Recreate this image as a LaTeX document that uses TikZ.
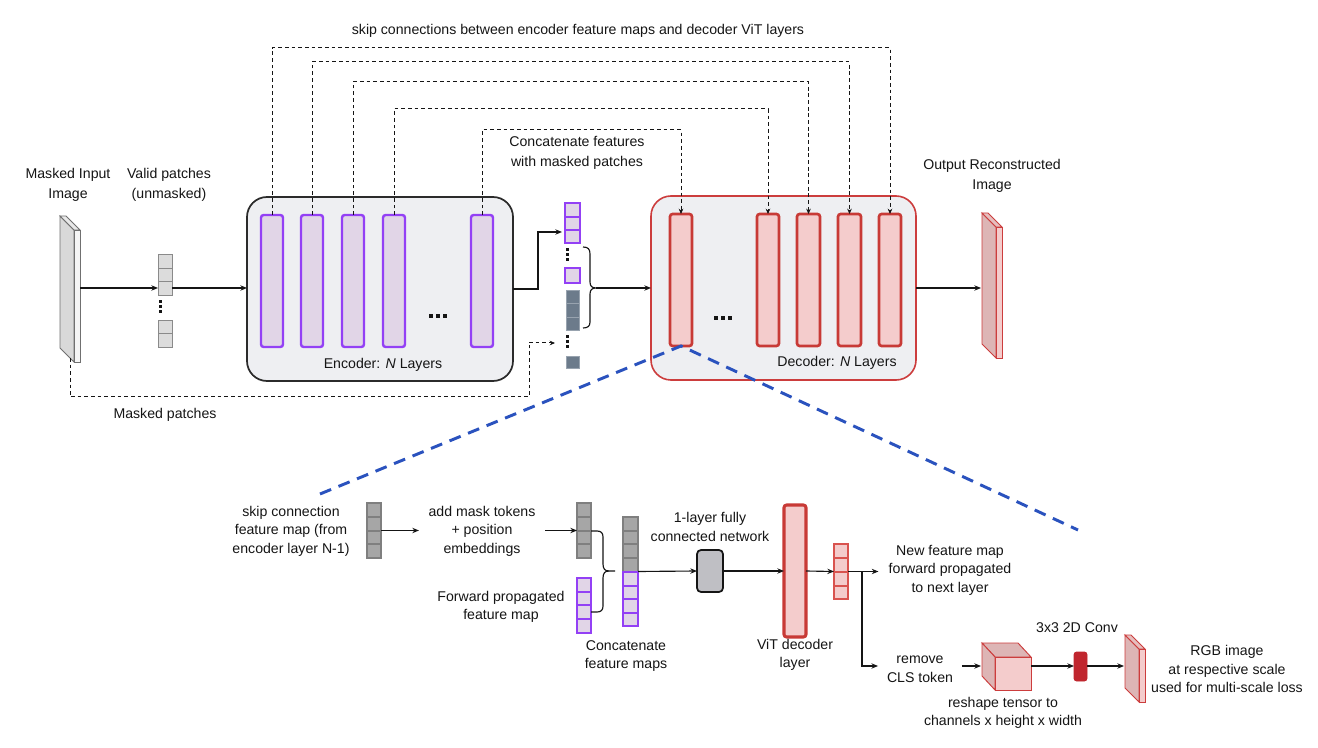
\documentclass[tikz,border=0pt]{standalone}
\usepackage{fontspec}
\setmainfont{Liberation Sans}
\usetikzlibrary{arrows.meta,fit,calc}
\definecolor{txt}{HTML}{151515}
\definecolor{purp}{HTML}{9340F5}
\definecolor{purpfill}{HTML}{E1D5E7}
\definecolor{boxfill}{HTML}{EEEFF2}
\definecolor{encstroke}{HTML}{2B2B2B}
\definecolor{decred}{HTML}{CC3D3D}
\definecolor{decred2}{HTML}{C83A36}
\definecolor{pinkfill}{HTML}{F4CCCC}
\definecolor{pinkdark}{HTML}{DDB5B5}
\definecolor{lightred}{HTML}{D9534F}
\definecolor{cellgray}{HTML}{DCDCDC}
\definecolor{cellgraystroke}{HTML}{8A8A8A}
\definecolor{midgray}{HTML}{A6A6A6}
\definecolor{midgraystroke}{HTML}{7F7F7F}
\definecolor{slate}{HTML}{6C7B8B}
\definecolor{slatestroke}{HTML}{98A3AF}
\definecolor{blueD}{HTML}{2A52BE}
\definecolor{convred}{HTML}{C0262E}
\definecolor{fcgray}{HTML}{BFBFC4}
\definecolor{slabgray}{HTML}{D9D9D9}
\definecolor{slabstroke}{HTML}{707070}
\begin{document}
\begin{tikzpicture}[x=0.75pt,y=-0.75pt,
  every node/.style={text=txt},
  lbl/.style={align=center, inner sep=1pt, font=\fontsize{10.6}{13.9}\selectfont},
  lblt/.style={align=center, inner sep=1pt, font=\fontsize{10.6}{15.5}\selectfont},
  fitbox/.style={inner sep=0pt, outer sep=0pt},
  encbox/.style={fitbox, draw=encstroke, fill=boxfill, line width=1.3pt, rounded corners=15pt},
  decbox/.style={fitbox, draw=decred, fill=boxfill, line width=1.2pt, rounded corners=15pt},
  enclayer/.style={fitbox, draw=purp, fill=purpfill, line width=1.8pt, rounded corners=2pt},
  declayer/.style={fitbox, draw=decred2, fill=pinkfill, line width=2pt, rounded corners=2pt},
  cellg/.style={fitbox, draw=cellgraystroke, fill=cellgray, line width=0.6pt},
  cellm/.style={fitbox, draw=midgraystroke, fill=midgray, line width=0.8pt},
  cellp/.style={fitbox, draw=purp, fill=purpfill, line width=1.3pt},
  cellsl/.style={fitbox, draw=slatestroke, fill=slate, line width=0.5pt},
  cellr/.style={fitbox, draw=lightred, fill=pinkfill, line width=1pt},
  ghost/.style={fitbox},
  arw/.style={-{Stealth[length=5pt,width=4pt]}, line width=0.85pt, draw=txt},
  plainline/.style={line width=0.85pt, draw=txt},
  skipl/.style={-{Stealth[length=4pt,width=3.5pt]}, line width=0.75pt, dash pattern=on 2.8pt off 2.2pt, draw=txt},
  dashl/.style={line width=0.75pt, dash pattern=on 2.8pt off 2.2pt, draw=txt},
  bluedash/.style={draw=blueD, line width=2.2pt, dash pattern=on 9pt off 6pt},
  dotsq/.style={fill=txt}
]
\useasboundingbox[fill=white] (0,0) rectangle (1318,748);

% ---------- top title
\node[lbl] (skiptxt) at (578,31) {skip connections between encoder feature maps and decoder ViT layers};

% ---------- masked input image
\filldraw[fill=slabgray, draw=slabstroke, line width=0.6pt] (60,216) -- (74,230) -- (74,362) -- (60,348) -- cycle;
\filldraw[fill=slabgray!60, draw=slabstroke, line width=0.6pt] (60,216) -- (66,216) -- (80,230) -- (74,230) -- cycle;
\node[fitbox, draw=slabstroke, fill=white!96!black, line width=0.6pt, fit={(74,230)(80,362)}] (inimg) {};
\coordinate (imgb) at (70,358);
\node[lblt] (intxt) at (68,185) {Masked Input\\Image};

% ---------- valid patches
\foreach \i/\ya/\yb in {1/254/268,2/268/281,3/281/295,4/320/333,5/333/347}
  \node[cellg, fit={(158,\ya)(172,\yb)}] (vp\i) {};
\foreach \yy in {300,305,310} \fill[dotsq] (159,\yy) rectangle (162,\yy+3);
\node[lblt] (vptxt) at (169,185) {Valid patches\\(unmasked)};

% ---------- encoder
\node[encbox, fit={(247,197)(513,381)}] (enc) {};
\node[enclayer, fit={(261,215)(283,347)}] (e1) {};
\node[enclayer, fit={(301,215)(323,347)}] (e2) {};
\node[enclayer, fit={(342,215)(364,347)}] (e3) {};
\node[enclayer, fit={(383,215)(405,347)}] (e4) {};
\node[enclayer, fit={(471,215)(493,347)}] (e5) {};
\foreach \xx in {429,436,443} \fill[dotsq] (\xx,314) rectangle (\xx+4,318);
\node[lbl] (enctxt) at (383,365) {Encoder: \textit{N} Layers};

\draw[arw] (inimg.east |- vp3.west) -- (vp3.west);
\draw[arw] (vp3.east) -- (vp3.east -| enc.west);

% ---------- concatenation stack
\foreach \i/\ya/\yb in {1/203/217,2/217/230,3/230/243,4/268/283}
  \node[cellp, fit={(565,\ya)(580,\yb)}] (cp\i) {};
\foreach \i/\ya/\yb in {1/290/303,2/303/317,3/317/330,4/356/368}
  \node[cellsl, fit={(566,\ya)(579,\yb)}] (sl\i) {};
\foreach \yy in {248,253,258,335,340,345} \fill[dotsq] (566,\yy) rectangle (569,\yy+3);
\node[lblt] (cattxt) at (577,153) {Concatenate features\\with masked patches};

\coordinate (cpin) at (562,232);
\draw[arw] (enc.east) -- (538,289) |- (cpin);

\draw[plainline] (583,247) .. controls (588,247) and (590,249) .. (590,254) -- (590,282)
  .. controls (590,286) and (592,288) .. (596,288)
  .. controls (592,288) and (590,290) .. (590,294) -- (590,322)
  .. controls (590,326) and (588,328) .. (583,328);
\coordinate (brtip) at (596,288);

% ---------- masked patches path
\coordinate (mpend) at (555,343);
\draw[dashl] (imgb) -- (70,397) -| (529,343);
\draw[skipl] (529,343) -- (mpend);
\node[lbl] (mptxt) at (165,415) {Masked patches};

% ---------- decoder
\node[decbox, fit={(651,196)(916,380)}] (dec) {};
\node[declayer, fit={(670,214)(692,346)}] (d1) {};
\node[declayer, fit={(757,214)(779,346)}] (d2) {};
\node[declayer, fit={(797,214)(820,346)}] (d3) {};
\node[declayer, fit={(838,214)(861,346)}] (d4) {};
\node[declayer, fit={(879,214)(901,346)}] (d5) {};
\foreach \xx in {714,721,728} \fill[dotsq] (\xx,316) rectangle (\xx+4,320);
\node[lbl] (dectxt) at (837,363) {Decoder: \textit{N} Layers};

\draw[arw] (brtip) -- (dec.west |- brtip);

% ---------- skip connections
\coordinate (h1) at (0,48);
\coordinate (h2) at (0,62);
\coordinate (h3) at (0,82);
\coordinate (h4) at (0,109);
\coordinate (h5) at (0,130);
\draw[skipl] (e1.north) -- (e1.north |- h1) -| (d5.north);
\draw[skipl] (e2.north) -- (e2.north |- h2) -| (d4.north);
\draw[skipl] (e3.north) -- (e3.north |- h3) -| (d3.north);
\draw[skipl] (e4.north) -- (e4.north |- h4) -| (d2.north);
\draw[skipl] (e5.north) -- (e5.north |- h5) -| (d1.north);

% ---------- output image
\filldraw[fill=pinkdark, draw=decred, line width=0.7pt] (982,213) -- (996,227) -- (996,358) -- (982,344) -- cycle;
\filldraw[fill=pinkdark!60!pinkfill, draw=decred, line width=0.7pt] (982,213) -- (988,213) -- (1002,227) -- (996,227) -- cycle;
\node[fitbox, draw=decred, fill=pinkfill, line width=0.7pt, fit={(996,227)(1002,358)}] (outimg) {};
\coordinate (outl) at (981,288);
\draw[arw] (dec.east) -- (outl);
\node[lblt] (outtxt) at (992,176) {Output Reconstructed\\Image};

% ---------- zoom lines
\coordinate (zl) at (320,494);
\coordinate (zr) at (1078,530);
\draw[bluedash] (zl) -- (d1.south) -- (zr);

% ---------- bottom detail
\foreach \i/\ya/\yb in {1/503/517,2/517/531,3/531/544,4/544/558}
  \node[cellm, fit={(367,\ya)(381,\yb)}] (sk\i) {};
\node[ghost, fit={(367,503)(381,558)}] (skst) {};
\node[lbl] (sktxt) at (291,531) {skip connection\\feature map (from\\encoder layer N-1)};

\node[lbl, inner xsep=7pt] (addl) at (482,531) {add mask tokens\\+ position\\embeddings};
\draw[arw] (skst.east) -- (addl.west |- skst.east);

\foreach \i/\ya/\yb in {1/503/517,2/517/531,3/531/544,4/544/558}
  \node[cellm, fit={(577,\ya)(591,\yb)}] (gb\i) {};
\node[ghost, fit={(577,503)(591,558)}] (gs2) {};
\draw[arw] (addl.east |- gs2.west) -- (gs2.west);

\foreach \i/\ya/\yb in {1/578/592,2/592/605,3/605/619,4/619/633}
  \node[cellp, fit={(577,\ya)(591,\yb)}] (pb\i) {};
\node[ghost, fit={(577,578)(591,633)}] (pp) {};
\node[lbl] (fptxt) at (501,607) {Forward propagated\\feature map};

\coordinate (br2tip) at (615,571);
\draw[plainline] (591,531) -- (597,531) .. controls (601,531) and (603,533) .. (603,537) -- (603,564)
  .. controls (603,569) and (605,571) .. (609,571) -- (br2tip);
\draw[plainline] (609,571) .. controls (605,571) and (603,573) .. (603,578) -- (603,606)
  .. controls (603,610) and (601,612) .. (597,612) -- (591,612);

\foreach \i/\ya/\yb in {1/517/531,2/531/544,3/544/558,4/558/572}
  \node[cellm, fit={(623,\ya)(638,\yb)}] (cg\i) {};
\foreach \i/\ya/\yb in {1/572/586,2/586/599,3/599/613,4/613/626}
  \node[cellp, fit={(623,\ya)(638,\yb)}] (cq\i) {};
\node[ghost, fit={(623,517)(638,626)}] (cs) {};
\node[lbl] (cstxt) at (626,656) {Concatenate\\feature maps};

\node[fitbox, draw=txt, fill=fcgray, line width=1.3pt, rounded corners=3pt, fit={(697,550)(723,592)}] (fc) {};
\node[lbl] (fctxt) at (710,527) {1-layer fully\\connected network};
\draw[arw] (cs.east) -- (fc.west);

\node[declayer, line width=2.3pt, fit={(784,505)(806,637)}] (vit) {};
\node[lbl] (vittxt) at (795,655) {ViT decoder\\layer};
\draw[arw] (fc.east) -- (vit.west);

\foreach \i/\ya/\yb in {1/544/558,2/558/572,3/572/586,4/586/599}
  \node[cellr, fit={(834,\ya)(848,\yb)}] (rc\i) {};
\node[ghost, fit={(834,544)(848,599)}] (rs) {};
\draw[arw] (vit.east) -- (rs.west);

\node[lbl, inner xsep=7.5pt] (newl) at (950,570) {New feature map\\forward propagated\\to next layer};
\coordinate (brn) at (862,571.5);
\draw[plainline] (rs.east) -- (brn);
\draw[arw] (brn) -- (brn -| newl.west);

\node[lbl, inner xsep=6.5pt] (rml) at (920,669) {remove\\CLS token};
\coordinate (rmy) at (0,666);
\draw[arw] (brn) |- (rml.west |- rmy);

% cube
\filldraw[fill=pinkdark, draw=decred, line width=0.7pt] (982,643) -- (1018,643) -- (1031,657) -- (995,657) -- cycle;
\filldraw[fill=pinkdark, draw=decred, line width=0.7pt] (982,643) -- (995,657) -- (995,690) -- (982,676) -- cycle;
\node[fitbox, draw=decred, fill=pinkfill, line width=0.7pt, fit={(995,657)(1031,690)}] (cubef) {};
\coordinate (cubel) at (981,666);
\draw[arw] (rml.east |- rmy) -- (cubel);
\node[lbl] (cubetxt) at (1003,713) {reshape tensor to\\channels x height x width};

\node[fitbox, draw=convred, fill=convred, line width=0.6pt, rounded corners=2pt, fit={(1074,652)(1087,681)}] (conv) {};
\node[lbl] (convtxt) at (1077,628) {3x3 2D Conv};
\draw[arw] (cubef.east |- rmy) -- (conv.west |- rmy);

% RGB slab
\filldraw[fill=pinkdark, draw=decred, line width=0.7pt] (1125,635) -- (1139,649) -- (1139,702) -- (1125,688) -- cycle;
\filldraw[fill=pinkdark!60!pinkfill, draw=decred, line width=0.7pt] (1125,635) -- (1131,635) -- (1145,649) -- (1139,649) -- cycle;
\node[fitbox, draw=decred, fill=pinkfill, line width=0.7pt, fit={(1139,649)(1145,702)}] (rgb) {};
\coordinate (rgbl) at (1124,666);
\draw[arw] (conv.east |- rmy) -- (rgbl);
\node[lbl] (rgbtxt) at (1227,669) {RGB image\\at respective scale\\used for multi-scale loss};

\end{tikzpicture}
\end{document}
